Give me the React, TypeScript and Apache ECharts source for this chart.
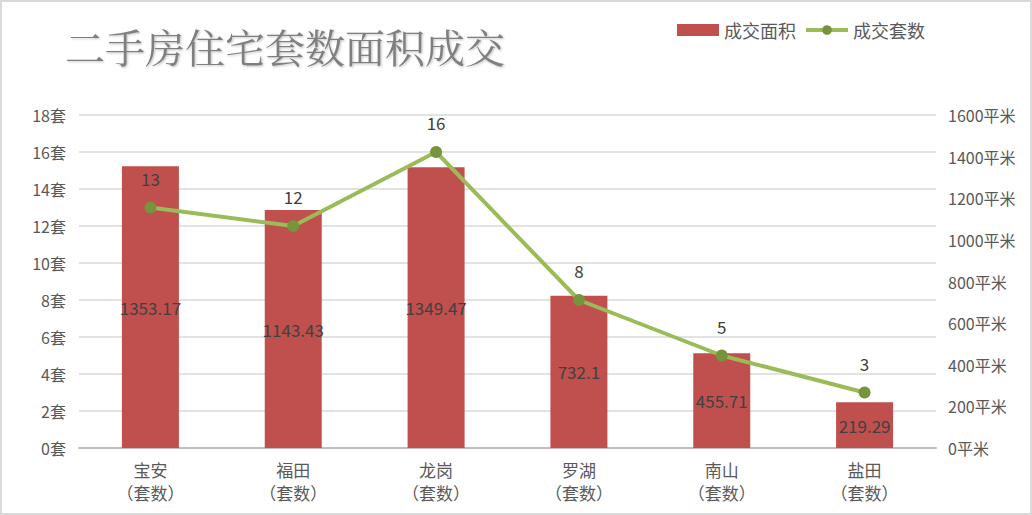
import React, { useEffect, useRef } from "react";
import * as echarts from "echarts";

const categories = ["宝安\n（套数）", "福田\n（套数）", "龙岗\n（套数）", "罗湖\n（套数）", "南山\n（套数）", "盐田\n（套数）"];
const areaValues = [1353.17, 1143.43, 1349.47, 732.1, 455.71, 219.29];
const countValues = [13, 12, 16, 8, 5, 3];
const titleText = "二手房住宅套数面积成交";
const areaName = "成交面积";
const countName = "成交套数";

export default function App() {
  const ref = useRef<HTMLDivElement>(null);
  useEffect(() => {
    const chart = echarts.init(ref.current!, null, { renderer: "svg" });
    const font = "'Microsoft YaHei', 'Noto Sans CJK SC', sans-serif";
    chart.setOption({
      animation: false,
      backgroundColor: "#ffffff",
      textStyle: { fontFamily: font },
      title: {
        text: titleText,
        left: 60,
        top: 20,
        textStyle: {
          fontSize: 40,
          fontWeight: "normal",
          color: "#7f7f7f",
          fontFamily: "'Noto Serif CJK SC', 'Noto Sans CJK SC', serif",
          textShadowColor: "rgba(0,0,0,0.25)",
          textShadowBlur: 2,
          textShadowOffsetX: 1,
          textShadowOffsetY: 1,
        },
      },
      legend: {
        left: 672,
        top: 16,
        itemWidth: 42,
        itemHeight: 12,
        itemGap: 8,
        textStyle: { fontSize: 18, color: "#595959", fontFamily: font },
        data: [
          { name: areaName, icon: "rect" },
          { name: countName, lineStyle: { width: 4, color: "#9bbb59" }, itemStyle: { color: "#77933c" } },
        ],
      },
      graphic: [
        {
          type: "rect",
          shape: { x: 1, y: 1, width: 1030, height: 513 },
          style: { fill: "none", stroke: "#d9d9d9", lineWidth: 2 },
          silent: true,
        },
      ],
      grid: { left: 79, right: 96, top: 115, bottom: 67 },
      xAxis: {
        type: "category",
        data: categories,
        axisTick: { show: false },
        axisLine: { lineStyle: { color: "#bfbfbf", width: 2 } },
        axisLabel: { fontSize: 17, color: "#595959", lineHeight: 23, margin: 10, fontFamily: font },
      },
      yAxis: [
        {
          type: "value",
          min: 0,
          max: 18,
          interval: 2,
          axisLabel: { formatter: (v: number) => `${v}套`, fontSize: 16, color: "#595959", margin: 13, fontFamily: font },
          axisLine: { show: false },
          axisTick: { show: false },
          splitLine: { lineStyle: { color: "#d9d9d9", width: 1.5 } },
        },
        {
          type: "value",
          min: 0,
          max: 1600,
          interval: 200,
          position: "right",
          axisLabel: { formatter: (v: number) => `${v}平米`, fontSize: 16, color: "#595959", margin: 12, fontFamily: font },
          axisLine: { show: false },
          axisTick: { show: false },
          splitLine: { show: false },
        },
      ],
      series: [
        {
          name: areaName,
          type: "bar",
          yAxisIndex: 1,
          data: areaValues,
          barWidth: 57,
          itemStyle: { color: "#c0504d" },
          label: { show: true, position: "inside", fontSize: 17, color: "#404040", fontFamily: font },
          z: 2,
        },
        {
          name: countName,
          type: "line",
          yAxisIndex: 0,
          data: countValues,
          symbol: "circle",
          symbolSize: 12,
          lineStyle: { color: "#9bbb59", width: 4 },
          itemStyle: { color: "#77933c" },
          label: { show: true, position: "top", distance: 15, fontSize: 17, color: "#404040", fontFamily: font },
          z: 3,
        },
      ],
    });
    return () => chart.dispose();
  }, []);
  return <div ref={ref} style={{ position: "absolute", left: 0, top: 0, width: 1032, height: 515 }} />;
}
